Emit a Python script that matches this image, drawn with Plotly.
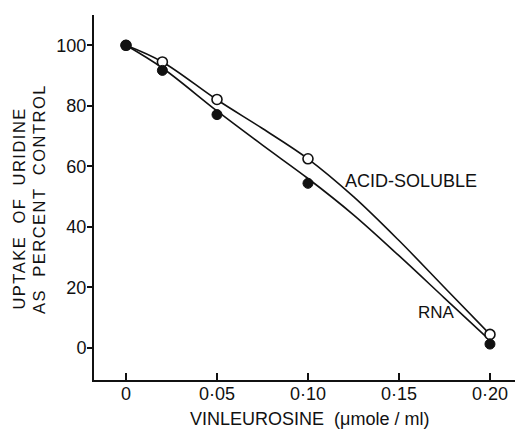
import plotly.graph_objects as go

# Measured points
dose = [0, 0.02, 0.05, 0.10, 0.20]
acid_soluble = [100, 94.5, 82.1, 62.5, 4.5]
rna = [100, 91.7, 77.1, 54.4, 1.3]

# Hand-drawn smooth curves at several doses
curve_dose = [0, 0.02, 0.05, 0.075, 0.10, 0.125, 0.15, 0.175, 0.20]
acid_curve = [100, 94.5, 82.0, 72.5, 62.5, 50.0, 35.5, 20.0, 4.5]
rna_curve = [100, 92.5, 78.3, 67.0, 56.0, 44.0, 30.5, 16.5, 2.5]

x_tick_vals = [0, 0.05, 0.10, 0.15, 0.20]
x_tick_text = ["0", "0·05", "0·10", "0·15", "0·20"]
y_tick_vals = [0, 20, 40, 60, 80, 100]

FONT = "Liberation Sans, Arial, sans-serif"
INK = "#111111"

fig = go.Figure()
for ys in (acid_curve, rna_curve):
    fig.add_trace(go.Scatter(x=curve_dose, y=ys, mode="lines",
                             line=dict(color=INK, width=1.6, shape="spline", smoothing=1.0),
                             hoverinfo="skip", showlegend=False))
fig.add_trace(go.Scatter(x=dose, y=acid_soluble, mode="markers", name="Acid-soluble",
                         marker=dict(size=10, color="white", line=dict(color=INK, width=1.6)),
                         showlegend=False))
fig.add_trace(go.Scatter(x=dose, y=rna, mode="markers", name="RNA",
                         marker=dict(size=10, color=INK, line=dict(color=INK, width=1)),
                         showlegend=False))

ls = '<span style="letter-spacing:1.5px">{}</span>'
annotations = [
    dict(text="ACID-SOLUBLE", x=0.1192, y=55.1, xref="x", yref="y",
         xanchor="left", yanchor="middle", showarrow=False,
         font=dict(family=FONT, size=18, color=INK)),
    dict(text="RNA", x=0.1593, y=11.7, xref="x", yref="y",
         xanchor="left", yanchor="middle", showarrow=False,
         font=dict(family=FONT, size=17, color=INK)),
    dict(text=ls.format("UPTAKE\u00a0\u00a0OF\u00a0\u00a0URIDINE"), x=-0.1749, y=0.471,
         xref="paper", yref="paper", textangle=-90, xanchor="center", yanchor="middle",
         showarrow=False, font=dict(family=FONT, size=16.5, color=INK)),
    dict(text=ls.format("AS\u00a0\u00a0PERCENT\u00a0\u00a0CONTROL"), x=-0.1291, y=0.496,
         xref="paper", yref="paper", textangle=-90, xanchor="center", yanchor="middle",
         showarrow=False, font=dict(family=FONT, size=16.5, color=INK)),
    dict(text="VINLEUROSINE\u00a0\u00a0(μmole\u00a0/\u00a0ml)", x=(309.5 - 94) / 426, y=(380 - 419) / 365,
         xref="paper", yref="paper", xanchor="center", yanchor="middle",
         showarrow=False, font=dict(family=FONT, size=18, color=INK)),
]

# the page body has an 8px margin, so the figure is offset by 8px
fig.update_layout(
    width=515, height=428, autosize=False,
    margin=dict(l=86, r=3, t=7, b=56),
    paper_bgcolor="white", plot_bgcolor="white",
    font=dict(family=FONT, size=18, color=INK),
    annotations=annotations,
    xaxis=dict(range=[-0.01758, 0.2165], tickvals=x_tick_vals, ticktext=x_tick_text,
               ticks="inside", ticklen=7, tickwidth=1.5, tickcolor=INK,
               ticklabelstandoff=-4,
               showline=True, linecolor=INK, linewidth=2, showgrid=False, zeroline=False,
               tickfont=dict(family=FONT, size=18, color=INK)),
    yaxis=dict(range=[-10.56, 110], tickvals=y_tick_vals,
               ticks="outside", ticklen=5, tickwidth=1.5, tickcolor=INK,
               ticklabelstandoff=-3,
               showline=True, linecolor=INK, linewidth=2, showgrid=False, zeroline=False,
               tickfont=dict(family=FONT, size=18, color=INK)),
)

fig.write_html("out.html")
